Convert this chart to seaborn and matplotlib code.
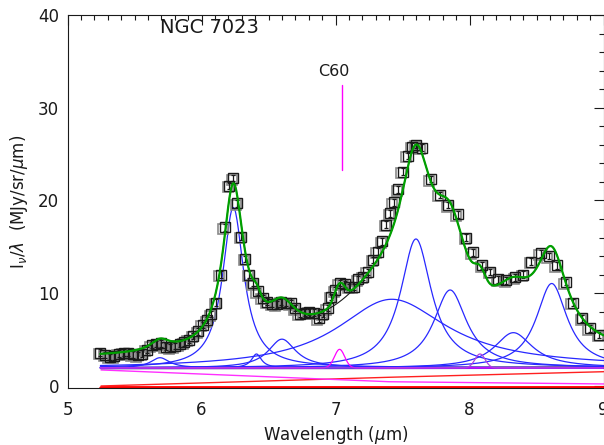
import matplotlib
matplotlib.use('Agg')
import matplotlib.pyplot as plt
import matplotlib.transforms as mtransforms
from matplotlib.ticker import MultipleLocator
import seaborn as sns
import numpy as np

sns.set_theme(style="white")
plt.rcParams['font.family'] = ['DejaVu Sans']
plt.rcParams['mathtext.fontset'] = 'dejavusans'

# spectre observé (points + barres d'erreur)
wave = [5.245, 5.280, 5.315, 5.349, 5.384, 5.419, 5.454, 5.488, 5.523, 5.558,
        5.593, 5.627, 5.662, 5.697, 5.732, 5.766, 5.801, 5.836, 5.870, 5.905,
        5.940, 5.975, 6.009, 6.044, 6.074, 6.109, 6.143, 6.173, 6.208, 6.238,
        6.268, 6.297, 6.327, 6.357, 6.387, 6.421, 6.456, 6.491, 6.526, 6.560,
        6.595, 6.630, 6.665, 6.699, 6.734, 6.769, 6.804, 6.838, 6.873, 6.908,
        6.942, 6.967, 6.997, 7.032, 7.067, 7.101, 7.136, 7.171, 7.205, 7.240,
        7.280, 7.315, 7.349, 7.379, 7.409, 7.434, 7.469, 7.503, 7.538, 7.573,
        7.603, 7.642, 7.712, 7.776, 7.841, 7.911, 7.975, 8.025, 8.094, 8.154,
        8.213, 8.273, 8.342, 8.402, 8.461, 8.531, 8.590, 8.650, 8.717, 8.769,
        8.839, 8.898, 8.967]
flux = [3.6, 3.35, 3.15, 3.2, 3.5, 3.6, 3.55, 3.4, 3.3, 3.5,
        3.9, 4.4, 4.5, 4.6, 4.25, 4.15, 4.3, 4.5, 4.7, 5.0,
        5.4, 5.9, 6.6, 7.1, 7.75, 9.0, 12.0, 17.1, 21.6, 22.4,
        19.7, 16.1, 13.7, 12.0, 11.1, 10.2, 9.5, 9.1, 8.85, 8.8,
        9.1, 9.0, 8.9, 8.4, 7.8, 7.9, 8.0, 7.9, 7.3, 7.8,
        8.4, 9.6, 10.3, 11.1, 11.0, 10.7, 10.7, 11.5, 11.8, 12.3,
        13.6, 14.5, 15.6, 17.4, 18.6, 19.8, 21.2, 23.1, 24.8, 25.8,
        26.0, 25.7, 22.3, 20.6, 19.5, 18.5, 16.0, 14.4, 13.0, 12.3,
        11.5, 11.4, 11.7, 12.0, 13.4, 14.3, 14.0, 13.0, 11.2, 9.0,
        7.3, 6.2, 5.5]
flux_err = 0.35

# bandes PAH (profils de Drude): centre, pic, largeur
pah_center = [5.69, 6.237, 6.41, 6.60, 7.42, 7.60, 7.855, 8.327, 8.613]
pah_peak = [1.1, 17.3, 1.5, 3.1, 7.4, 13.9, 8.4, 3.8, 9.1]
pah_fwhm = [0.17, 0.19, 0.09, 0.25, 1.0, 0.28, 0.30, 0.35, 0.28]

# raies étroites (C60 à 7.04 et raie à 8.08)
line_center = [7.03, 8.078]
line_peak = [2.0, 1.5]
line_fwhm = [0.09, 0.09]
line_color = ['#ff00ff', '#b040e0']

base_level = 1.95
plateau = 1.0

# composantes du continuum
cont_wave = [5.25, 7.4, 9.0]
red_cont = [0.0, 0.94, 1.54]
mag_cont = [1.73, 0.46, 0.22]
purple_cont = [1.94, 1.96, 2.0]
hot_cont = [-0.2, -0.2, -0.2]


def drude(lam, c, peak, fwhm):
    g = fwhm / c
    return peak * g**2 / ((lam / c - c / lam)**2 + g**2)


def gauss(lam, c, peak, fwhm):
    s = fwhm / 2.3548
    return peak * np.exp(-0.5 * ((lam - c) / s)**2)


lam = np.linspace(5.245, 9.0, 800)
pah = [drude(lam, c, p, w) for c, p, w in zip(pah_center, pah_peak, pah_fwhm)]
lines = [gauss(lam, c, p, w) for c, p, w in zip(line_center, line_peak, line_fwhm)]
total_noc60 = base_level + plateau + np.sum(pah, axis=0) + lines[1]
total = total_noc60 + lines[0]

fig = plt.figure(figsize=(6.04, 4.45), dpi=100)
ax = fig.add_axes([0.1118, 0.1274, 0.8875, 0.8389])

# continuum
sns.lineplot(x=cont_wave, y=hot_cont, color='#ff0000', lw=3.5, ax=ax)
sns.lineplot(x=cont_wave, y=red_cont, color='#ff2020', lw=1.0, ax=ax)
sns.lineplot(x=cont_wave, y=mag_cont, color='#ff30ff', lw=1.0, ax=ax)
sns.lineplot(x=cont_wave, y=purple_cont, color='#6a4c9c', lw=2.0, ax=ax)

for comp in pah:
    sns.lineplot(x=lam, y=base_level + comp, color='#2828ff', lw=0.9, ax=ax)
for comp, col in zip(lines, line_color):
    sns.lineplot(x=lam, y=base_level + comp, color=col, lw=0.9, ax=ax)

# données: carrés noirs avec ombre grise
shift = mtransforms.offset_copy(ax.transData, fig=fig, x=-1.5, y=-1.5, units='dots')
ax.plot(wave, flux, ls='none', marker='s', ms=7, mfc='none', mec='#8a8a8a',
        mew=1.2, transform=shift)
ax.errorbar(wave, flux, yerr=flux_err, fmt='none', ecolor='k', elinewidth=0.9,
            capsize=1.5, capthick=0.9)
ax.plot(wave, flux, ls='none', marker='s', ms=7, mfc='none', mec='k', mew=1.0)

sns.lineplot(x=lam, y=total_noc60, color='k', lw=0.8, ax=ax)
sns.lineplot(x=lam, y=total, color='#00a000', lw=1.6, ax=ax)

# repère C60
ax.plot([7.048, 7.048], [23.3, 32.5], color='#ff00ff', lw=1.0)
ax.text(6.99, 33.9, 'C60', ha='center', va='center', fontsize=11.5, color='k')
ax.text(5.69, 38.6, 'NGC 7023', ha='left', va='center', fontsize=14, color='k')

ax.set_xlim(5, 9)
ax.set_ylim(-0.25, 40)
ax.xaxis.set_major_locator(MultipleLocator(1))
ax.xaxis.set_minor_locator(MultipleLocator(0.1))
ax.yaxis.set_major_locator(MultipleLocator(10))
ax.yaxis.set_minor_locator(MultipleLocator(2))
ax.tick_params(which='both', direction='in', top=True, right=True,
               colors='k', width=0.8, labelsize=12)
ax.tick_params(which='major', length=7, pad=6)
ax.tick_params(which='minor', length=3.5)
ax.tick_params(axis='x', which='major', pad=9)
for sp in ax.spines.values():
    sp.set_color('k')
    sp.set_linewidth(0.8)

ax.set_xlabel(r'Wavelength ($\mu$m)', fontsize=12, color='k', labelpad=4)
ax.set_ylabel(r'I$_{\nu}$/$\lambda$  (MJy/sr/$\mu$m)', fontsize=12, color='k', labelpad=6)

fig.savefig('out.png', dpi=100)
plt.close(fig)
